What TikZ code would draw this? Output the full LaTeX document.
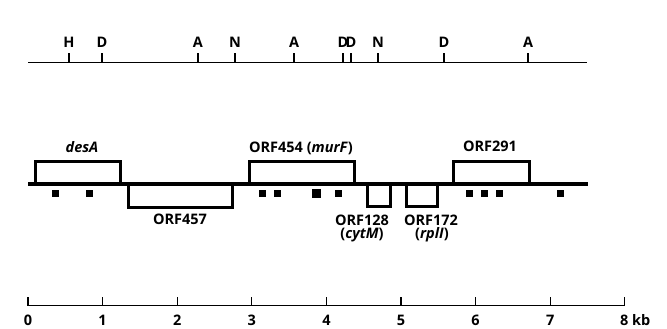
\documentclass[tikz,border=0pt]{standalone}
\usepackage{fontspec}
\setmainfont{Open Sans}
\begin{document}
\begin{tikzpicture}[x=1pt,y=-1pt,
  lbl/.style={font=\fontsize{14.5}{16}\selectfont\bfseries, inner sep=0pt},
  orfbox/.style={line width=3pt},
  mapline/.style={line width=1.6pt},
  site/.style={fill=black, minimum size=7pt, inner sep=0pt},
]
\useasboundingbox (0,0) rectangle (667,329);
% restriction map
\draw[mapline] (28,62.7) -- (587,62.7);
\foreach \x/\t in {69/H,102/D,198/A,235/N,294/A,343/D,351/D,378/N,444/D,528/A}{
  \draw[line width=1.3pt] (\x,62.7) -- (\x,53);
  \node[lbl] at (\x,42) {\t};
}
% ORF line
\draw[line width=3.2pt] (28,184) -- (588,184);
\draw[orfbox] (35,184) -- (35,161) -- (120,161) -- (120,184);
\draw[orfbox] (128,184) -- (128,207) -- (232,207) -- (232,184);
\draw[orfbox] (249,184) -- (249,161) -- (354,161) -- (354,184);
\draw[orfbox] (367,184) -- (367,206) -- (390,206) -- (390,184);
\draw[orfbox] (406,184) -- (406,206) -- (437,206) -- (437,184);
\draw[orfbox] (453,184) -- (453,161) -- (529,161) -- (529,184);
\foreach \x [count=\i] in {55,89,262,277,338,469,484,499,560}{
  \node[site] (s\i) at (\x,193.5) {};
}
\node[site, minimum size=9pt] (s10) at (316,193) {};
\node[lbl] (desA) at (82,147) {\itshape desA};
\node[lbl] (o454) at (301,148) {ORF454 (\itshape murF\/\upshape)};
\node[lbl] (o291) at (490,146) {ORF291};
\node[lbl] (o457) at (180,219) {ORF457};
\node[lbl] (o128) at (362,220) {ORF128};
\node[lbl] (c128) at (362,235) {(\itshape cytM\/\upshape)};
\node[lbl] (o172) at (431,220) {ORF172};
\node[lbl] (c172) at (432,235) {(\itshape rplI\/\upshape)};
% scale
\draw[line width=1.3pt] (28,305.5) -- (625,305.5);
\foreach \k in {0,...,8}{
  \draw[line width=1.3pt] ({28+74.6*\k},305.5) -- ({28+74.6*\k},297);
}
\foreach \k in {0,...,7}{
  \node[lbl] at ({28+74.6*\k},320) {\k};
}
\node[lbl, anchor=west] at (620,320) {8 kb};
\end{tikzpicture}
\end{document}
